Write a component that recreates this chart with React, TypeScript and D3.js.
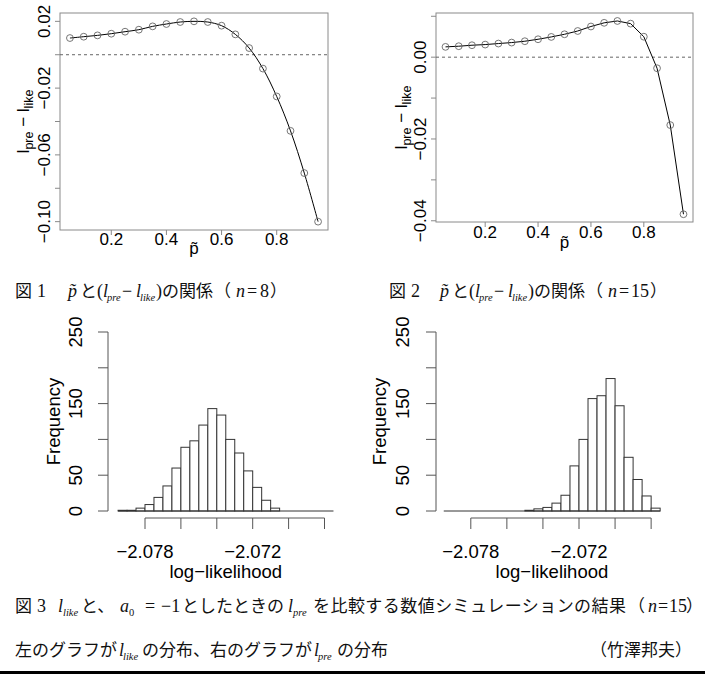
import React from 'react';
import * as d3 from 'd3';

// ---------- data ----------
const pTilde = [0.05, 0.10, 0.15, 0.20, 0.25, 0.30, 0.35, 0.40, 0.45, 0.50, 0.55, 0.60, 0.65, 0.70, 0.75, 0.80, 0.85, 0.90, 0.95];
const diffN8 = [0.0100, 0.0108, 0.0116, 0.0126, 0.0138, 0.0150, 0.0170, 0.0184, 0.0196, 0.0200, 0.0196, 0.0174, 0.0122, 0.0040, -0.0083, -0.0250, -0.0456, -0.0709, -0.1000];
const diffN15 = [0.00252, 0.00268, 0.00292, 0.00308, 0.00333, 0.00357, 0.0039, 0.00438, 0.00495, 0.0056, 0.0064, 0.0075, 0.0084, 0.00885, 0.0082, 0.0050, -0.0027, -0.0166, -0.0384];
const xTicksTop = [0.2, 0.4, 0.6, 0.8];
const yTicksN8 = [0.02, 0, -0.02, -0.04, -0.06, -0.08, -0.10];
const yLabelsN8 = [0.02, -0.02, -0.06, -0.10];
const yTicksN15 = [0.01, 0, -0.01, -0.02, -0.03, -0.04];
const yLabelsN15 = [0, -0.02, -0.04];

const binEdges = [-2.0795, -2.0790, -2.0785, -2.0780, -2.0775, -2.0770, -2.0765, -2.0760, -2.0755, -2.0750, -2.0745, -2.0740, -2.0735, -2.0730, -2.0725, -2.0720, -2.0715, -2.0710, -2.0705, -2.0700, -2.0695, -2.0690, -2.0685, -2.0680, -2.0675];
const countsLike = [1, 1, 4, 9, 19, 35, 60, 89, 98, 120, 143, 134, 100, 81, 56, 33, 15, 4, 0, 0, 0, 0, 0, 0];
const countsPre = [0, 0, 0, 0, 0, 0, 0, 0, 0, 1, 3, 5, 11, 22, 63, 100, 157, 161, 185, 147, 75, 44, 21, 4];
const histXTicks = [-2.078, -2.076, -2.074, -2.072, -2.070, -2.068];
const histXLabels = [-2.078, -2.072];
const histYTicks = [0, 50, 100, 150, 200, 250];
const histYLabels = [0, 50, 150, 250];

const SANS = "'Liberation Sans', Arial, sans-serif";
const LATIN = "'Liberation Serif', 'Times New Roman', serif";
const CJK = "'Noto Sans CJK JP', sans-serif";
const MINUS = '\u2212';

const fmtTop = (v: number) => (v < 0 ? MINUS : '') + Math.abs(v).toFixed(2);
const fmtHist = (v: number) => (v < 0 ? MINUS : '') + Math.abs(v).toFixed(3);

type TopProps = {
  box: [number, number, number, number];
  yDomain: [number, number];
  values: number[];
  curve: any;
  yTicks: number[];
  yLabels: number[];
  tickLabelBase: number;
  yLabelX: number;
  yTitleX: number;
  pBase: number;
};

function TopChart(props: TopProps) {
  const [x0, y0, x1, y1] = props.box;
  const x = d3.scaleLinear().domain([0.014, 0.986]).range([x0, x1]);
  const y = d3.scaleLinear().domain(props.yDomain).range([y1, y0]);
  const line = d3.line<number>().x((_, i) => x(pTilde[i])).y((d) => y(d)).curve(props.curve);
  const cy = (y0 + y1) / 2;
  const cx = (x0 + x1) / 2;
  const fs = 17;
  return (
    <g fontFamily={SANS} fontSize={fs} fill="#000">
      <rect x={x0} y={y0} width={x1 - x0} height={y1 - y0} fill="none" stroke="#8a8a8a" strokeWidth={1} />
      <line x1={x0} x2={x1} y1={y(0)} y2={y(0)} stroke="#666" strokeWidth={1} strokeDasharray="3,3" />
      <path d={line(props.values) || ''} fill="none" stroke="#000" strokeWidth={1} />
      {props.values.map((v, i) => (
        <circle key={i} cx={x(pTilde[i])} cy={y(v)} r={3.4} fill="none" stroke="#666" strokeWidth={0.9} />
      ))}
      {props.yTicks.map((t) => (
        <line key={t} x1={x0} x2={x0 - 5} y1={y(t)} y2={y(t)} stroke="#8a8a8a" />
      ))}
      {props.yLabels.map((t) => (
        <text key={t} transform={`translate(${props.yLabelX},${y(t)}) rotate(-90)`} textAnchor="middle">
          {fmtTop(t)}
        </text>
      ))}
      {xTicksTop.map((t) => (
        <line key={t} x1={x(t)} x2={x(t)} y1={y1} y2={y1 + 5} stroke="#8a8a8a" />
      ))}
      {xTicksTop.map((t) => (
        <text key={t} x={x(t)} y={props.tickLabelBase} textAnchor="middle">
          {t.toFixed(1)}
        </text>
      ))}
      <text transform={`translate(${props.yTitleX},${cy}) rotate(-90)`} textAnchor="middle">
        <tspan>l</tspan>
        <tspan fontSize={12.5} dy={4}>pre</tspan>
        <tspan dy={-4}>{' ' + MINUS + ' '}</tspan>
        <tspan>l</tspan>
        <tspan fontSize={12.5} dy={4}>like</tspan>
      </text>
      <text x={cx} y={props.pBase} textAnchor="middle">{'p\u0303'}</text>
    </g>
  );
}

type HistProps = {
  xRange: [number, number];
  axisX: number;
  counts: number[];
  yLabelX: number;
  titleX: number;
};

function Hist(props: HistProps) {
  const x = d3.scaleLinear().domain([-2.078, -2.072]).range(props.xRange);
  const y = d3.scaleLinear().domain([0, 250]).range([511, 332]);
  const axisY = 518;
  const fs = 18.5;
  const lo = x(binEdges[0]);
  const hi = x(binEdges[binEdges.length - 1]);
  const center = (lo + hi) / 2;
  return (
    <g fontFamily={SANS} fontSize={fs} fill="#000">
      {props.counts.map((c, i) => (
        <rect key={i} x={x(binEdges[i])} y={y(c)} width={x(binEdges[i + 1]) - x(binEdges[i])} height={y(0) - y(c)}
          fill="#fff" stroke="#333" strokeWidth={1} />
      ))}
      <line x1={lo} x2={hi} y1={y(0)} y2={y(0)} stroke="#333" strokeWidth={1} />
      <line x1={props.axisX} x2={props.axisX} y1={y(0)} y2={y(250)} stroke="#555" />
      {histYTicks.map((t) => (
        <line key={t} x1={props.axisX} x2={props.axisX - 10} y1={y(t)} y2={y(t)} stroke="#555" />
      ))}
      {histYLabels.map((t) => (
        <text key={t} transform={`translate(${props.yLabelX},${y(t)}) rotate(-90)`} textAnchor="middle">{t}</text>
      ))}
      <line x1={x(histXTicks[0])} x2={x(histXTicks[histXTicks.length - 1])} y1={axisY} y2={axisY} stroke="#555" />
      {histXTicks.map((t) => (
        <line key={t} x1={x(t)} x2={x(t)} y1={axisY} y2={axisY + 11} stroke="#555" />
      ))}
      {histXLabels.map((t) => (
        <text key={t} x={x(t)} y={558} textAnchor="middle">{fmtHist(t)}</text>
      ))}
      <text x={center} y={578} textAnchor="middle">log{MINUS}likelihood</text>
      <text transform={`translate(${props.titleX},${(y(0) + y(250)) / 2}) rotate(-90)`} textAnchor="middle">Frequency</text>
    </g>
  );
}

// ---------- captions ----------
type Seg = { t: string; x: number; k: 'cjk' | 'lat' | 'it' | 'sub' | 'subr'; w?: number };
const CJK_FS = 17;
const LAT_FS = 18;
const SUB_FS = 10.5;

function Caption({ y, segs }: { y: number; segs: Seg[] }) {
  return (
    <text y={y} fill="#111">
      {segs.map((s, i) => {
        const sub = s.k === 'sub' || s.k === 'subr';
        return (
          <tspan key={i} x={s.x} y={sub ? y + 4 : y}
            fontFamily={s.k === 'cjk' ? CJK : LATIN}
            fontSize={s.k === 'cjk' ? CJK_FS : sub ? SUB_FS : LAT_FS}
            fontStyle={s.k === 'it' || s.k === 'sub' ? 'italic' : 'normal'}
            textLength={s.w} lengthAdjust={s.w ? 'spacing' : undefined}>
            {s.t}
          </tspan>
        );
      })}
    </text>
  );
}

const cap1: Seg[] = [
  { t: '図', x: 15, k: 'cjk' }, { t: '1', x: 37, k: 'lat' },
  { t: 'p\u0303', x: 68, k: 'it' }, { t: 'と', x: 80, k: 'cjk' },
  { t: '(', x: 97, k: 'lat' }, { t: 'l', x: 103, k: 'it' }, { t: 'pre', x: 107, k: 'sub' },
  { t: MINUS, x: 122, k: 'lat' }, { t: 'l', x: 136, k: 'it' }, { t: 'like', x: 140, k: 'sub' },
  { t: ')', x: 156, k: 'lat' }, { t: 'の関係', x: 162, k: 'cjk' },
  { t: '（', x: 214, k: 'cjk' }, { t: 'n', x: 236, k: 'it' }, { t: '=', x: 247, k: 'lat' },
  { t: '8', x: 260, k: 'lat' }, { t: '）', x: 270, k: 'cjk' },
];
const cap2: Seg[] = [
  { t: '図', x: 389, k: 'cjk' }, { t: '2', x: 411, k: 'lat' },
  { t: 'p\u0303', x: 440, k: 'it' }, { t: 'と', x: 452, k: 'cjk' },
  { t: '(', x: 469, k: 'lat' }, { t: 'l', x: 475, k: 'it' }, { t: 'pre', x: 479, k: 'sub' },
  { t: MINUS, x: 494, k: 'lat' }, { t: 'l', x: 508, k: 'it' }, { t: 'like', x: 512, k: 'sub' },
  { t: ')', x: 528, k: 'lat' }, { t: 'の関係', x: 534, k: 'cjk' },
  { t: '（', x: 586, k: 'cjk' }, { t: 'n', x: 608, k: 'it' }, { t: '=', x: 619, k: 'lat' },
  { t: '15', x: 631, k: 'lat' }, { t: '）', x: 650, k: 'cjk' },
];
const cap3: Seg[] = [
  { t: '図', x: 15, k: 'cjk' }, { t: '3', x: 37, k: 'lat' },
  { t: 'l', x: 58, k: 'it' }, { t: 'like', x: 63, k: 'sub' }, { t: 'と、', x: 81, k: 'cjk' },
  { t: 'a', x: 120, k: 'it' }, { t: '0', x: 129, k: 'subr' }, { t: '=', x: 145, k: 'lat' },
  { t: MINUS + '1', x: 161, k: 'lat' }, { t: 'としたときの', x: 182, k: 'cjk' },
  { t: 'l', x: 288, k: 'it' }, { t: 'pre', x: 293, k: 'sub' },
  { t: 'を比較する数値シミュレーションの結果', x: 313, k: 'cjk', w: 313 },
  { t: '（', x: 628, k: 'cjk' }, { t: 'n', x: 648, k: 'it' }, { t: '=', x: 658, k: 'lat' },
  { t: '15', x: 669, k: 'lat' }, { t: '）', x: 686, k: 'cjk' },
];
const cap4: Seg[] = [
  { t: '左のグラフが', x: 15, k: 'cjk' }, { t: 'l', x: 119, k: 'it' }, { t: 'like', x: 123, k: 'sub' },
  { t: 'の分布、右のグラフが', x: 142, k: 'cjk' }, { t: 'l', x: 314, k: 'it' }, { t: 'pre', x: 318, k: 'sub' },
  { t: 'の分布', x: 337, k: 'cjk' },
];

export default function App() {
  return (
    <div style={{ position: 'absolute', left: 0, top: 0 }}>
      <svg width={705} height={674} viewBox="0 0 705 674" style={{ display: 'block', background: '#fff' }}>
        <rect width={705} height={674} fill="#fff" />
        <TopChart box={[60, 13, 328, 230]} yDomain={[-0.105, 0.025]} values={diffN8} curve={d3.curveCatmullRom}
          yTicks={yTicksN8} yLabels={yLabelsN8} tickLabelBase={245} yLabelX={50} yTitleX={29} pBase={254} />
        <TopChart box={[436, 13, 693, 222]} yDomain={[-0.0403, 0.0108]} values={diffN15} curve={d3.curveLinear}
          yTicks={yTicksN15} yLabels={yLabelsN15} tickLabelBase={237.5} yLabelX={426} yTitleX={407} pBase={248} />
        <Caption y={297} segs={cap1} />
        <Caption y={297} segs={cap2} />
        <Hist xRange={[145, 252.7]} axisX={108} counts={countsLike} yLabelX={82} titleX={60} />
        <Hist xRange={[470.8, 579]} axisX={436} counts={countsPre} yLabelX={409} titleX={386} />
        <Caption y={612} segs={cap3} />
        <Caption y={656} segs={cap4} />
        <text x={692} y={656} fontFamily={CJK} fontSize={CJK_FS} fill="#111" textAnchor="end">（竹澤邦夫）</text>
        <rect x={0} y={671} width={705} height={3} fill="#000" />
      </svg>
    </div>
  );
}
